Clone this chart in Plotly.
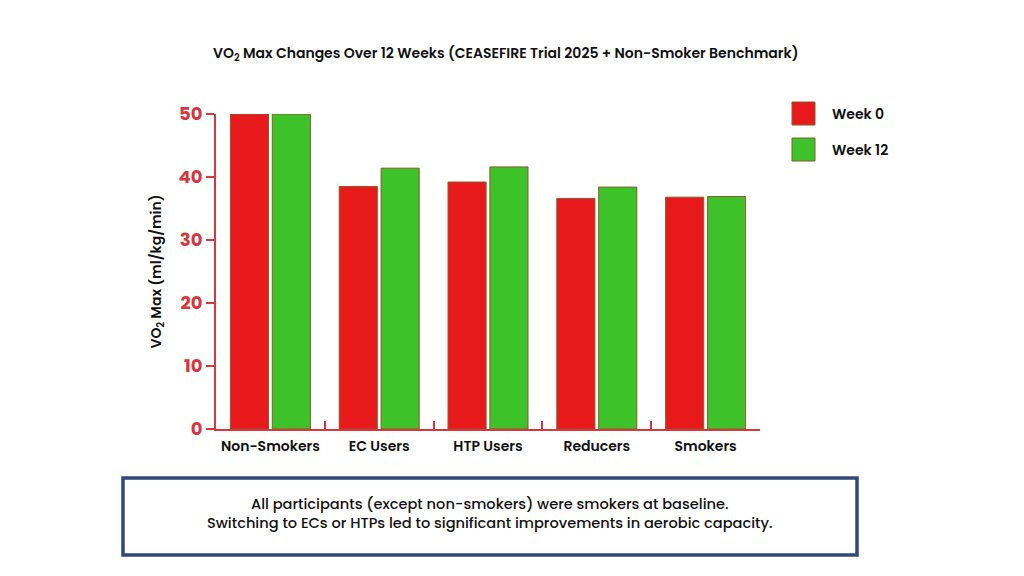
import plotly.graph_objects as go

categories = ["Non-Smokers", "EC Users", "HTP Users", "Reducers", "Smokers"]
week0 = [50.0, 38.5, 39.2, 36.6, 36.8]
week12 = [50.0, 41.4, 41.6, 38.4, 36.9]
series_names = ["Week 0", "Week 12"]
y_ticks = [0, 10, 20, 30, 40, 50]

RED = "#E8191B"
GREEN = "#3EC22A"
AXIS_RED = "#D9363E"
FONT = "Poppins, Inter, Noto Sans, sans-serif"

W, H = 1024, 576
L, R, T, B = 216, 760, 114, 429


def px(x):
    return (x - L) / (R - L)


def py(y):
    return (B - y) / (B - T)


fig = go.Figure()
for name, vals, col in [(series_names[0], week0, RED), (series_names[1], week12, GREEN)]:
    fig.add_trace(go.Bar(
        x=categories, y=vals, name=name,
        marker=dict(color=col, line=dict(color="#8a5a2b", width=1)),
        showlegend=False,
    ))

fig.update_layout(
    width=W, height=H,
    margin=dict(l=L, r=W - R, t=T, b=H - B, pad=0),
    paper_bgcolor="white", plot_bgcolor="white",
    barmode="group", bargap=0.23, bargroupgap=0.09,
    font=dict(family=FONT, color="#111111"),
    xaxis=dict(
        showline=True, linecolor=AXIS_RED, linewidth=2,
        ticks="inside", tickson="boundaries", ticklen=8, tickcolor=AXIS_RED, tickwidth=1.5,
        tickangle=0, ticklabelstandoff=3,
        tickfont=dict(family=FONT, size=14, color="#111111", weight=600),
        showgrid=False, zeroline=False,
    ),
    yaxis=dict(
        range=[0, 50], tickvals=y_ticks,
        showline=True, linecolor=AXIS_RED, linewidth=2,
        ticks="outside", ticklen=8, tickcolor=AXIS_RED, tickwidth=1.5,
        tickfont=dict(family=FONT, size=18, color=AXIS_RED, weight="bold"),
        showgrid=False, zeroline=False,
        title=dict(text="VO<sub>2</sub> Max (ml/kg/min)", standoff=14,
                   font=dict(family=FONT, size=14, color="#111111", weight=600)),
    ),
)

# title
fig.add_annotation(
    text="VO<sub>2</sub> Max Changes Over 12 Weeks (CEASEFIRE Trial 2025 + Non-Smoker Benchmark)",
    xref="paper", yref="paper", x=px(505), y=py(53), xanchor="center", yanchor="middle",
    showarrow=False, font=dict(family=FONT, size=14, color="#111111", weight=600),
)

# legend
for i, (name, col) in enumerate([(series_names[0], RED), (series_names[1], GREEN)]):
    top = 102 + i * 36
    fig.add_shape(type="rect", xref="paper", yref="paper",
                  x0=px(792), x1=px(815), y0=py(top + 23), y1=py(top),
                  fillcolor=col, line=dict(color="#8a5a2b", width=1))
    fig.add_annotation(text=name, xref="paper", yref="paper",
                       x=px(830), y=py(top + 12), xanchor="left", yanchor="middle",
                       showarrow=False,
                       font=dict(family=FONT, size=14, color="#111111", weight=600))

# note box
fig.add_shape(type="rect", xref="paper", yref="paper",
              x0=px(123), x1=px(857), y0=py(555), y1=py(478),
              fillcolor="white", line=dict(color="#2F4A7A", width=3.5))
fig.add_annotation(
    text="All participants (except non-smokers) were smokers at baseline.<br>"
         "Switching to ECs or HTPs led to significant improvements in aerobic capacity.",
    xref="paper", yref="paper", x=px(490), y=py(513), xanchor="center", yanchor="middle",
    showarrow=False, align="center",
    font=dict(family=FONT, size=14.6, color="#111111", weight=500),
)

fig.write_html("out.html")
